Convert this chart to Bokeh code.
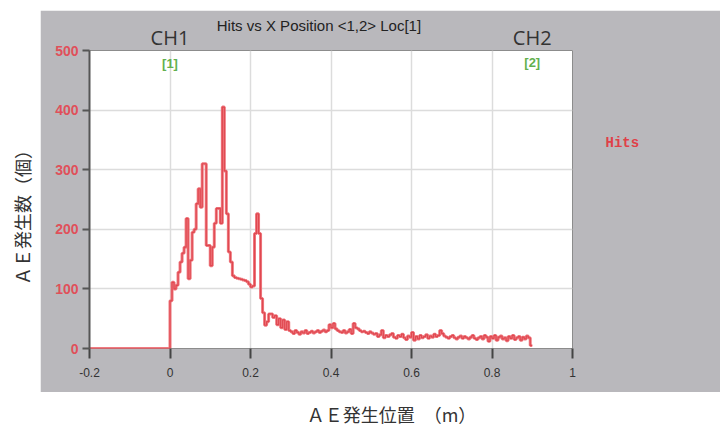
from bokeh.plotting import figure
from bokeh.models import Label, FixedTicker, Range1d, LinearAxis, Spacer
from bokeh.layouts import row, column
from bokeh.core.properties import value
from bokeh.embed import file_html
from bokeh.resources import INLINE
import math

# ---- data ----
BIN_START = 0.0
BIN_WIDTH = 0.005
hits = [
    80, 111, 100, 106, 128, 145, 160, 170, 218, 117,
    148, 195, 200, 243, 268, 237, 310, 310, 173, 173,
    139, 170, 210, 235, 235, 210, 405, 298, 226, 162,
    145, 122, 119, 118, 117, 116, 115, 114, 112, 108,
    103, 105, 193, 226, 193, 84, 60, 39, 45, 58,
    58, 52, 55, 40, 50, 35, 48, 32, 45, 30,
    28, 25, 30, 27, 24, 28, 26, 30, 25, 27,
    29, 26, 28, 30, 27, 29, 31, 28, 30, 40,
    35, 42, 33, 30, 28, 27, 30, 26, 28, 32,
    25, 42, 35, 33, 30, 28, 29, 27, 25, 28,
    26, 24, 25, 20, 23, 30, 18, 22, 20, 23,
    25, 19, 17, 22, 20, 24, 18, 15, 21, 19,
    27, 14, 20, 16, 22, 18, 20, 23, 17, 21,
    19, 24, 20, 22, 30, 25, 21, 19, 17, 20,
    22, 18, 16, 19, 21, 17, 20, 18, 16, 19,
    22, 17, 15, 18, 20, 16, 22, 19, 12, 20,
    17, 22, 14, 19, 21, 16, 18, 13, 20, 17,
    22, 15, 18, 20, 14, 19, 16, 21, 18, 5,
]
x_ticks = [-0.2, 0, 0.2, 0.4, 0.6, 0.8, 1.0]
x_tick_labels = ["-0.2", "0", "0.2", "0.4", "0.6", "0.8", "1"]
y_ticks = [0, 100, 200, 300, 400, 500]
x_min, x_max = -0.2, 1.0
y_min, y_max = 0, 500

title_text = "Hits vs X Position <1,2> Loc[1]"
title_pos = 0.37
ch_labels = ["CH1", "CH2"]
ch_marks = ["[1]", "[2]"]
ch_positions = [0.0, 0.9]
legend_text = "Hits"
legend_level = 345
x_label = "ＡＥ発生位置　（m）"
y_label = "ＡＥ発生数（個）"

GRAY = "#b9b8bc"


def bare(width, height, xrange, yrange, fill):
    f = figure(width=width, height=height, output_backend="svg", toolbar_location=None,
               x_range=xrange, y_range=yrange, x_axis_type=None, y_axis_type=None,
               min_border=0)
    f.border_fill_color = fill
    f.background_fill_color = fill
    f.outline_line_color = None
    return f


def text_axis(ticks, labels, font, size, color, standoff, style="normal"):
    ax = LinearAxis(ticker=FixedTicker(ticks=ticks),
                    major_label_overrides={t: l for t, l in zip(ticks, labels)})
    ax.axis_line_color = None
    ax.major_tick_line_color = None
    ax.minor_tick_line_color = None
    ax.major_tick_out = 0
    ax.major_tick_in = 0
    ax.major_label_standoff = standoff
    ax.major_label_text_font = font
    ax.major_label_text_font_style = style
    ax.major_label_text_font_size = size
    ax.major_label_text_color = color
    return ax


# ---- y label strip ----
ylab = bare(40, 392, Range1d(0, 40), Range1d(0, 392), "white")
ylab.text(x=[21], y=[179.5], text=[y_label], angle=math.pi / 2, text_align="center",
          text_baseline="middle", text_font=value("Noto Sans CJK JP"),
          text_font_size="18px", text_color="#333333")

# ---- main plot ----
p = figure(width=680, height=382, output_backend="svg", toolbar_location=None,
           x_range=Range1d(x_min, x_max), y_range=Range1d(y_min, y_max),
           min_border_left=49, min_border_right=148,
           min_border_top=40, min_border_bottom=44)
p.border_fill_color = GRAY
p.background_fill_color = "white"
p.outline_line_color = "#8c8c8c"
p.outline_line_width = 1

p.xgrid.ticker = FixedTicker(ticks=x_ticks)
p.ygrid.ticker = FixedTicker(ticks=y_ticks)
p.xgrid.grid_line_color = "#dcdcdc"
p.ygrid.grid_line_color = "#dcdcdc"
p.xgrid.grid_line_width = 1.5
p.ygrid.grid_line_width = 1.5

xa = p.xaxis[0]
xa.ticker = FixedTicker(ticks=x_ticks)
xa.major_label_overrides = {t: l for t, l in zip(x_ticks, x_tick_labels)}
xa.axis_line_color = None
xa.major_tick_line_color = "#444444"
xa.major_tick_line_width = 2
xa.major_tick_out = 10
xa.major_tick_in = 0
xa.minor_tick_line_color = None
xa.major_label_text_color = "#333333"
xa.major_label_text_font = "Liberation Sans"
xa.major_label_text_font_size = "12px"
xa.major_label_standoff = 9

ya = p.yaxis[0]
ya.ticker = FixedTicker(ticks=y_ticks)
ya.axis_line_color = "#555555"
ya.axis_line_width = 2
ya.major_tick_line_color = "#555555"
ya.major_tick_line_width = 2
ya.major_tick_out = 7
ya.major_tick_in = 0
ya.minor_tick_line_color = None
ya.major_label_text_color = "#e0505a"
ya.major_label_text_font = "Liberation Sans"
ya.major_label_text_font_style = "bold"
ya.major_label_text_font_size = "14px"
ya.major_label_standoff = 4

# channel names (nearest the frame) and the title above them
p.add_layout(text_axis(ch_positions, ch_labels, "Open Sans", "20px", "#333333", 0), "above")
p.add_layout(text_axis([title_pos], [title_text], "Liberation Sans", "15px", "#222222", -13), "above")

# legend entry as a right-hand axis label
p.add_layout(text_axis([legend_level], [legend_text], "Liberation Mono", "14px",
                       "#e04048", 33, style="bold"), "right")

# step histogram (soft wide stroke with a darker core, like the original trace)
xs = [x_min] + [BIN_START + i * BIN_WIDTH for i in range(len(hits))] + [BIN_START + len(hits) * BIN_WIDTH]
ys = [0] + hits + [hits[-1]]
p.step(xs, ys, mode="after", line_color="#ef7a80", line_width=3)
p.step(xs, ys, mode="after", line_color="#e04850", line_width=1.2)

mark_y = [479.0, 480.7]
for pos, mk, my in zip(ch_positions, ch_marks, mark_y):
    p.add_layout(Label(x=pos, y=my, text=mk, text_align="center", text_baseline="middle",
                       text_font="Liberation Sans", text_font_style="bold",
                       text_font_size="13px", text_color="#62b04e"))

# ---- x label strip ----
xlab = bare(720, 34, Range1d(0, 720), Range1d(0, 34), "white")
xlab.text(x=[391], y=[13], text=[x_label], text_align="center",
          text_baseline="middle", text_font=value("Noto Sans CJK JP"),
          text_font_size="18px", text_color="#333333")

layout = column(
    row(ylab, column(Spacer(width=680, height=10), p, spacing=0), spacing=0),
    xlab, spacing=0)

open("out.html", "w").write(file_html(layout, INLINE))
